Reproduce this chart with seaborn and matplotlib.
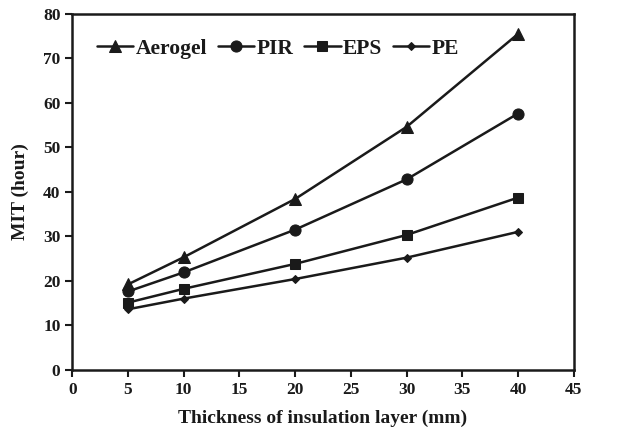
import matplotlib
matplotlib.use("Agg")
import matplotlib.pyplot as plt
import seaborn as sns
import pandas as pd

thickness = [5, 10, 20, 30, 40]
aerogel = [19.2, 25.3, 38.4, 54.6, 75.5]
pir = [17.6, 21.9, 31.5, 42.8, 57.6]
eps = [15.1, 18.2, 23.8, 30.3, 38.7]
pe = [13.6, 16.0, 20.4, 25.2, 31.0]

names = ["Aerogel", "PIR", "EPS", "PE"]
series = [aerogel, pir, eps, pe]

rows = []
for name, vals in zip(names, series):
    for t, v in zip(thickness, vals):
        rows.append({"thickness": t, "mit": v, "material": name})
data = pd.DataFrame(rows)

sns.set_style("ticks")
plt.rcParams["font.family"] = ["Liberation Serif", "DejaVu Serif"]
plt.rcParams["font.weight"] = "bold"

fig = plt.figure(figsize=(6.23, 4.33), dpi=100)
ax = fig.add_axes([0.116, 0.146, 0.805, 0.822])

marker_map = {"Aerogel": "^", "PIR": "o", "EPS": "s", "PE": "D"}
size_map = {"Aerogel": 8, "PIR": 8, "EPS": 6.5, "PE": 4.5}

for name in names:
    sub = data[data["material"] == name]
    sns.lineplot(
        data=sub, x="thickness", y="mit", ax=ax,
        color="#1a1a1a", marker=marker_map[name],
        markersize=size_map[name], markeredgecolor="#1a1a1a",
        linewidth=1.8, label=name
    )

ax.set_xlim(0, 45)
ax.set_ylim(0, 80)
ax.set_xticks(range(0, 46, 5))
ax.set_yticks(range(0, 81, 10))
ax.tick_params(direction="out", length=5, width=1.5, labelsize=12.5, colors="#1a1a1a")
for lab in ax.get_xticklabels() + ax.get_yticklabels():
    lab.set_fontweight("bold")
for sp in ax.spines.values():
    sp.set_visible(True)
    sp.set_linewidth(1.8)
    sp.set_color("#1a1a1a")

ax.set_xlabel("Thickness of insulation layer (mm)", fontsize=14, fontweight="bold",
              color="#1a1a1a", labelpad=9)
ax.set_ylabel("MIT (hour)", fontsize=14, fontweight="bold", color="#1a1a1a", labelpad=10)

leg = ax.legend(loc="upper left", ncol=4, frameon=False, fontsize=15.5,
                handlelength=1.7, handletextpad=0.1, columnspacing=0.5,
                bbox_to_anchor=(0.01, 0.985))
for t in leg.get_texts():
    t.set_fontweight("bold")
    t.set_color("#1a1a1a")

fig.savefig("out.png", dpi=100)
